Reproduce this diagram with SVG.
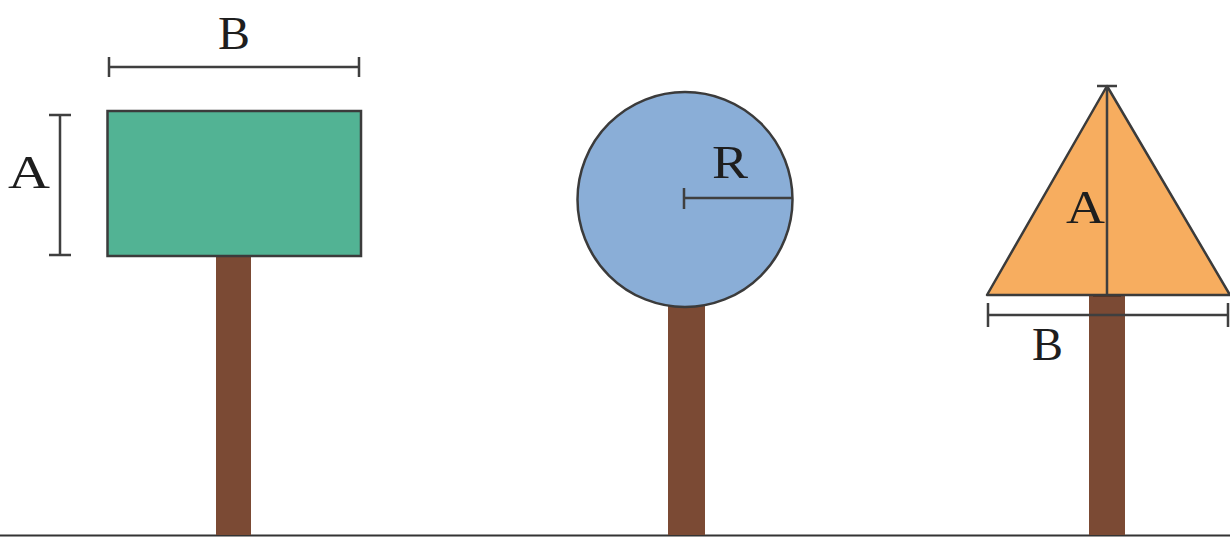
<svg xmlns="http://www.w3.org/2000/svg" width="1230" height="537" viewBox="0 0 1230 537">
<style>
.pole{fill:#7b4a34;}
.edge{stroke:#3b3b3b;stroke-width:2.5;}
.dim{stroke:#3f3f3f;stroke-width:2.5;fill:none;}
.lbl{font-family:"Liberation Serif","DejaVu Serif",serif;font-size:47px;fill:#1e1e1e;}
</style>
<rect width="1230" height="537" fill="#ffffff"/>
<g id="ground"><line x1="0" y1="535.5" x2="1230" y2="535.5" stroke="#333" stroke-width="2"/></g>
<g id="rect-sign">
<rect class="pole" x="216" y="256" width="35" height="279"/>
<rect x="107.5" y="111" width="253.5" height="145" fill="#52b394" class="edge"/>
</g>
<g id="circle-sign">
<rect class="pole" x="668" y="300" width="37" height="235"/>
<circle cx="685" cy="199.5" r="107.5" fill="#8aaed7" class="edge"/>
</g>
<g id="triangle-sign">
<rect class="pole" x="1089" y="294" width="36" height="241"/>
<rect x="1093" y="292" width="28" height="5" fill="#5a3424"/>
<polygon points="1107,86 987,295 1230,295" fill="#f7ad5f" class="edge" stroke-linejoin="round"/>
</g>
<g id="dimensions">
<path class="dim" d="M109,67 H359 M109,57 V77 M359,57 V77"/>
<path class="dim" d="M60,115 V255 M49,115 H71 M49,255 H71"/>
<path class="dim" d="M684,198 H792 M684,188 V209"/>
<path class="dim" d="M1107,86 V294 M1097,86 H1117" stroke-width="2"/>
<path class="dim" d="M988,315 H1228 M988,303 V327 M1228,303 V327"/>
</g>
<g id="labels">
<text class="lbl" x="218" y="49" textLength="32" lengthAdjust="spacingAndGlyphs">B</text>
<text class="lbl" x="8" y="188" textLength="42" lengthAdjust="spacingAndGlyphs">A</text>
<text class="lbl" x="712" y="178" textLength="36" lengthAdjust="spacingAndGlyphs">R</text>
<text class="lbl" x="1066" y="223" textLength="39" lengthAdjust="spacingAndGlyphs">A</text>
<text class="lbl" x="1032" y="360" textLength="31" lengthAdjust="spacingAndGlyphs">B</text>
</g>
</svg>
